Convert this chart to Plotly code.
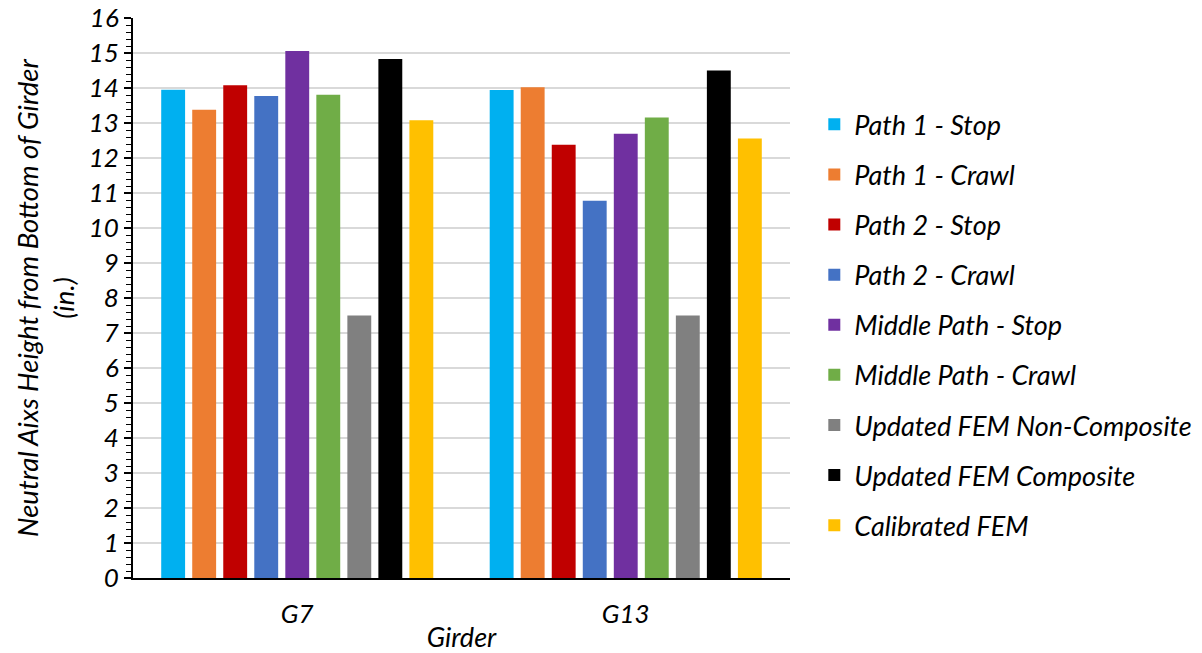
import plotly.graph_objects as go

categories = ["G7", "G13"]
series_names = [
    "Path 1 - Stop", "Path 1 - Crawl", "Path 2 - Stop", "Path 2 - Crawl",
    "Middle Path - Stop", "Middle Path - Crawl", "Updated FEM Non-Composite",
    "Updated FEM Composite", "Calibrated FEM",
]
path1_stop = [13.95, 13.94]
path1_crawl = [13.38, 14.02]
path2_stop = [14.08, 12.38]
path2_crawl = [13.77, 10.78]
middle_stop = [15.06, 12.69]
middle_crawl = [13.81, 13.16]
fem_noncomposite = [7.5, 7.5]
fem_composite = [14.83, 14.50]
calibrated_fem = [13.08, 12.56]

series_values = [path1_stop, path1_crawl, path2_stop, path2_crawl, middle_stop,
                 middle_crawl, fem_noncomposite, fem_composite, calibrated_fem]
colors = ["#00B0F0", "#ED7D31", "#C00000", "#4472C4", "#7030A0",
          "#70AD47", "#808080", "#000000", "#FFC000"]

FONT = "Lato"

fig = go.Figure()
for i, (name, vals, col) in enumerate(zip(series_names, series_values, colors)):
    fig.add_trace(go.Bar(
        x=categories, y=vals, name=name, marker=dict(color=col, line=dict(width=0)),
        legendgroup=f"g{i}",
    ))

fig.update_layout(
    width=1202, height=653,
    margin=dict(l=133, r=412, t=18, b=75, autoexpand=False),
    plot_bgcolor="white", paper_bgcolor="white",
    barmode="group", bargap=0.15, bargroupgap=0.23,
    font=dict(family=FONT, size=26, color="black"),
    legend=dict(
        x=1.037, y=0.853, xanchor="left", yanchor="top",
        font=dict(family=FONT, size=27, style="italic"),
        tracegroupgap=12, itemwidth=30,
    ),
    xaxis=dict(
        showline=True, linecolor="black", linewidth=2, automargin=False,
        ticks="outside", ticklen=12, tickcolor="rgba(0,0,0,0)",
        tickfont=dict(size=26, style="italic"),
        title=dict(text="Girder", font=dict(size=27, style="italic"), standoff=2),
    ),
    yaxis=dict(
        range=[0, 16], dtick=1, showline=True, linecolor="black", linewidth=2,
        automargin=False, ticklabeloverflow="allow",
        ticks="outside", ticklen=7, tickcolor="black", tickwidth=2,
        minor=dict(dtick=0.2, ticks="outside", ticklen=5, tickcolor="black", tickwidth=1, showgrid=False),
        showgrid=True, gridcolor="#D9D9D9", gridwidth=2,
        tickfont=dict(size=26, style="italic"),
        title=dict(text="Neutral Aixs Height from Bottom of Girder<br>(in.)",
                   font=dict(size=27.5, style="italic"), standoff=6),
        zeroline=False,
    ),
)

fig.write_html("out.html", config={"displayModeBar": False},
               post_script="document.body.style.margin='0';")
